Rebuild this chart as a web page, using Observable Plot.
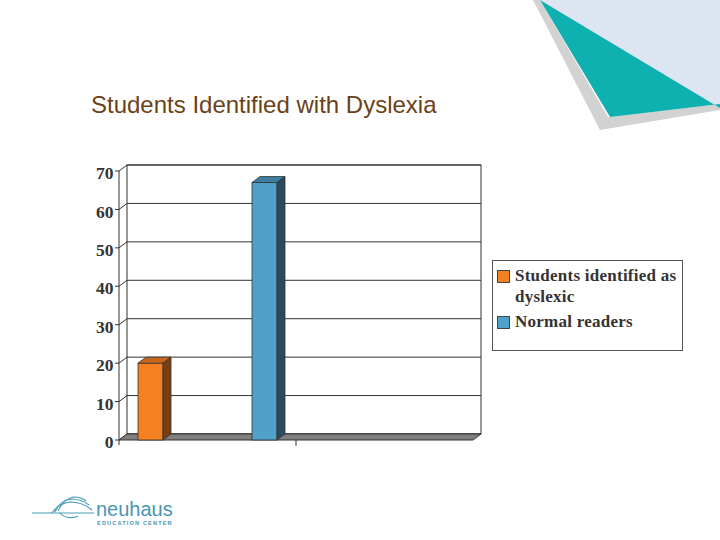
<!DOCTYPE html>
<html>
<head>
<meta charset="utf-8">
<script src="https://cdn.jsdelivr.net/npm/d3@7"></script>
<script src="https://cdn.jsdelivr.net/npm/@observablehq/plot@0.6"></script>
<style>
  html, body { margin: 0; padding: 0; background: #ffffff; }
  #page { position: relative; width: 720px; height: 540px; overflow: hidden; font-family: "Liberation Sans", Arial, sans-serif; }
  #deco { position: absolute; left: 0; top: 0; }
  #title { position: absolute; left: 91px; top: 92.5px; font-size: 24px; line-height: 1; color: #6b4218; white-space: nowrap; }
  #chart { position: absolute; left: 0; top: 150px; }
  #legend { position: absolute; left: 492px; top: 260px; width: 191px; height: 91px; box-sizing: border-box;
            border: 1px solid #555; background: #fff; font-family: "Liberation Serif", "Times New Roman", serif;
            font-weight: bold; font-size: 17px; letter-spacing: 0.25px; color: #333; padding: 4px 0 0 0; }
  .item { position: relative; padding-left: 22px; line-height: 21px; margin-bottom: 4px; }
  .sw { position: absolute; left: 4px; top: 5px; width: 11px; height: 11px; border: 1px solid #444; }
</style>
</head>
<body>
<div id="page">
  <svg id="deco" width="720" height="540">
    <polygon points="533,0 600,130 720,110 720,104 608,117 540,0" fill="#d2d2d2"></polygon>
    <polygon points="540,0 720,0 720,108" fill="#dce5f1"></polygon>
    <polygon points="540,0 720,108 720,104 610,117" fill="#0eb0b0"></polygon>
    <!-- logo -->
    <g stroke="#4a9cb8" fill="none" stroke-width="1.2">
      <path d="M32,513 L94,513"></path>
      <path d="M52,513 C56,507 62,503 70,502 C78,502 86,505 92,510"></path>
      <path d="M55,512 C58,505 63,500 71,499 C78,499 84,501 89,505"></path>
      <path d="M58,511 C61,504 66,499 73,497 C79,497 83,498 86,501"></path>
      <path d="M60,513 C64,518 72,519 78,516"></path>
    </g>
    <text x="96" y="516" font-family="Liberation Sans, Arial, sans-serif" font-size="20" fill="#4a94b4">neuhaus</text>
    <text x="97" y="524.5" font-family="Liberation Sans, Arial, sans-serif" font-size="5.6" font-weight="bold" letter-spacing="1.15" fill="#4a94b4">EDUCATION CENTER</text>
  </svg>
  <div id="title">Students Identified with Dyslexia</div>
  <div id="chart"></div>
  <div id="legend"></div>
</div>
<script>
// ---- data ----
const series = ["Students identified as dyslexic", "Normal readers"];
const values = [20, 67];
const yTicks = [0, 10, 20, 30, 40, 50, 60, 70];
const frontColors = ["#f58021", "#4fa1c9"];
const topColors = ["#c8661b", "#3c7fa1"];
const sideColors = ["#7b3e12", "#2a4b5d"];

const rows = series.map((s, i) => ({series: s, value: values[i]}));

// 3D depth offset (style)
const DX = 8, DY = -6;
const W = 500, H = 310, mL = 119, mR = 27, mT = 21, mB = 20;
const plotL = mL, plotR = W - mR;

function box3d(index, scales, vals, dims) {
  const y = scales.y;
  const L = dims.marginLeft, R = dims.width - dims.marginRight, B = dims.height - dims.marginBottom;
  const top = y(yTicks[yTicks.length - 1]);
  const g = d3.create("svg:g").attr("stroke", "#333").attr("stroke-width", 1);
  // back wall
  g.append("rect").attr("x", L + DX).attr("y", top + DY).attr("width", R - L).attr("height", B - top)
    .attr("fill", "#fff");
  // gridlines on back wall
  for (const t of yTicks) {
    g.append("line").attr("x1", L + DX).attr("x2", R + DX).attr("y1", y(t) + DY).attr("y2", y(t) + DY);
    g.append("line").attr("x1", L).attr("x2", L + DX).attr("y1", y(t)).attr("y2", y(t) + DY);
    g.append("line").attr("x1", L - 4).attr("x2", L).attr("y1", y(t)).attr("y2", y(t));
  }
  // front value axis
  g.append("line").attr("x1", L).attr("x2", L).attr("y1", top).attr("y2", B + 5);
  // floor
  g.append("polygon")
    .attr("points", [[L, B], [R, B], [R + DX, B + DY], [L + DX, B + DY]].map(p => p.join(",")).join(" "))
    .attr("fill", "#808080");
  // category boundary tick
  g.append("line").attr("x1", (L + R) / 2).attr("x2", (L + R) / 2).attr("y1", B).attr("y2", B + 6);
  return g.node();
}

function faces(index, scales) {
  const x = scales.x, y = scales.y;
  const bw = x.bandwidth();
  const g = d3.create("svg:g").attr("stroke", "#333").attr("stroke-width", 0.8).attr("stroke-linejoin", "round");
  series.forEach((s, i) => {
    const x0 = x(s), x1 = x0 + bw, yt = y(values[i]), yb = y(0);
    g.append("polygon").attr("fill", topColors[i])
      .attr("points", [[x0, yt], [x1, yt], [x1 + DX, yt + DY], [x0 + DX, yt + DY]].map(p => p.join(",")).join(" "));
    g.append("polygon").attr("fill", sideColors[i])
      .attr("points", [[x1, yt], [x1 + DX, yt + DY], [x1 + DX, yb + DY], [x1, yb]].map(p => p.join(",")).join(" "));
  });
  return g.node();
}

const chart = Plot.plot({
  width: W, height: H,
  marginLeft: mL, marginRight: mR, marginTop: mT, marginBottom: mB,
  style: {background: "transparent", overflow: "visible", fontFamily: "'Liberation Serif', 'Times New Roman', serif",
          fontSize: "17.5px", fontWeight: "bold", color: "#333"},
  x: {type: "band", domain: series, range: [plotL, (plotL + plotR) / 2], paddingInner: 0.78, paddingOuter: 0.165, axis: null},
  y: {domain: [0, 70], axis: null},
  color: {domain: series, range: frontColors},
  marks: [
    box3d,
    Plot.barY(rows, {x: "series", y: "value", fill: "series", stroke: "#333", strokeWidth: 0.8, inset: 0}),
    faces,
    Plot.text(yTicks, {y: d => d, text: d => String(d), frameAnchor: "left", textAnchor: "end", dx: -6, dy: 2, fill: "#333"})
  ]
});
document.getElementById("chart").appendChild(chart);

// legend
const legend = d3.select("#legend");
series.forEach((s, i) => {
  const it = legend.append("div").attr("class", "item");
  it.append("span").attr("class", "sw").style("background", frontColors[i]);
  it.append("span").text(s);
});
</script>
</body>
</html>
